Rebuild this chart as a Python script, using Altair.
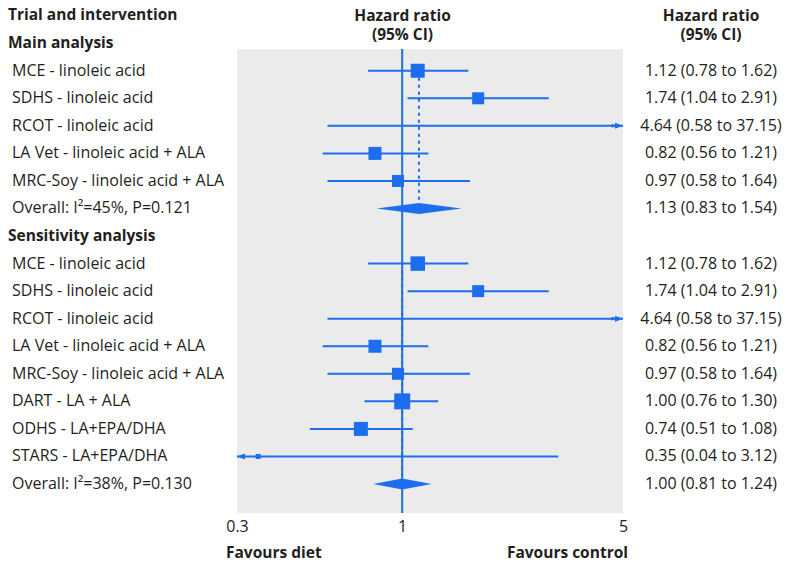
import altair as alt
import pandas as pd

FONT = "Open Sans"
BLUE = "#1c6eef"
TXT = "#231f20"
FS = 16
FSB = 15.5

# ---- data ----
main_trials = ["MCE - linoleic acid", "SDHS - linoleic acid", "RCOT - linoleic acid",
               "LA Vet - linoleic acid + ALA", "MRC-Soy - linoleic acid + ALA"]
main_hr = [1.12, 1.74, 4.64, 0.82, 0.97]
main_lo = [0.78, 1.04, 0.58, 0.56, 0.58]
main_hi = [1.62, 2.91, 37.15, 1.21, 1.64]
main_weight = [19.6, 14.4, 0.9, 16.9, 14.4]
main_overall_label = "Overall: I²=45%, P=0.121"
main_overall = [1.13, 0.83, 1.54]

sens_trials = ["MCE - linoleic acid", "SDHS - linoleic acid", "RCOT - linoleic acid",
               "LA Vet - linoleic acid + ALA", "MRC-Soy - linoleic acid + ALA",
               "DART - LA + ALA", "ODHS - LA+EPA/DHA", "STARS - LA+EPA/DHA"]
sens_hr = [1.12, 1.74, 4.64, 0.82, 0.97, 1.00, 0.74, 0.35]
sens_lo = [0.78, 1.04, 0.58, 0.56, 0.58, 0.76, 0.51, 0.04]
sens_hi = [1.62, 2.91, 37.15, 1.21, 1.64, 1.30, 1.08, 3.12]
sens_weight = [21.0, 14.4, 0.9, 16.9, 14.4, 25.6, 19.6, 2.5]
sens_overall_label = "Overall: I²=38%, P=0.130"
sens_overall = [1.00, 0.81, 1.24]

section_labels = ["Main analysis", "Sensitivity analysis"]
header_texts = ["Trial and intervention", "Hazard ratio", "(95% CI)", "Favours diet", "Favours control"]
x_ticks = [0.3, 1, 5]
XMIN, XMAX = 0.3, 5
NULL_HR = 1

# ---- build tables ----
rows = []
trials = []
diamonds = []
dashes = []
r = 0
for sec, names, hr, lo, hi, wt, olab, ov in [
    (section_labels[0], main_trials, main_hr, main_lo, main_hi, main_weight, main_overall_label, main_overall),
    (section_labels[1], sens_trials, sens_hr, sens_lo, sens_hi, sens_weight, sens_overall_label, sens_overall),
]:
    rows.append(dict(row=r, label=sec, kind="head", txt=""))
    r += 1
    first = r
    for n, e, l, h, w in zip(names, hr, lo, hi, wt):
        rows.append(dict(row=r, label=n, kind="item", txt=f"{e:.2f} ({l:.2f} to {h:.2f})"))
        trials.append(dict(row=r, hr=e, lo=max(l, XMIN), hi=min(h, XMAX), weight=w,
                           arr_r=XMAX if h > XMAX else None, arr_l=XMIN if l < XMIN else None))
        r += 1
    rows.append(dict(row=r, label=olab, kind="item", txt=f"{ov[0]:.2f} ({ov[1]:.2f} to {ov[2]:.2f})"))
    hh = 0.2
    diamonds += [dict(g=r, x=ov[1], y=r, y2=r), dict(g=r, x=ov[0], y=r - hh, y2=r + hh),
                 dict(g=r, x=ov[2], y=r, y2=r)]
    dashes.append(dict(x=ov[0], y=first + 0.25, y2=r - hh))
    r += 1

rows_df = pd.DataFrame(rows)
tr_df = pd.DataFrame(trials)
dia_df = pd.DataFrame(diamonds)
dash_df = pd.DataFrame(dashes)

# ---- scales ----
yscale = alt.Scale(domain=[0.2105, 17.053], reverse=True, nice=False, zero=False)
xscale = alt.Scale(type="log", domain=[XMIN, XMAX], nice=False)
xaxis = alt.Axis(values=x_ticks, format="~g", title=None, grid=False, domain=False, ticks=False,
                 labelFlush=False, labelPadding=5, labelFontSize=FS, labelFont=FONT,
                 labelColor=TXT, labelOverlap=False)


def X(f):
    return alt.X(f, scale=xscale, axis=xaxis)


def Y(f):
    return alt.Y(f, scale=yscale, axis=None)


ref_line = alt.Chart(pd.DataFrame({"x": [NULL_HR]})).mark_rule(color=BLUE, strokeWidth=2).encode(x=X("x:Q"))

dash_layer = alt.Chart(dash_df).mark_rule(color=BLUE, strokeWidth=2, strokeDash=[3, 4]).encode(
    x=X("x:Q"), y=Y("y:Q"), y2="y2:Q")

ci = alt.Chart(tr_df).mark_rule(color=BLUE, strokeWidth=2).encode(x=X("lo:Q"), x2="hi:Q", y=Y("row:Q"))

squares = alt.Chart(tr_df).mark_square(color=BLUE, opacity=1).encode(
    x=X("hr:Q"), y=Y("row:Q"),
    size=alt.Size("weight:Q", scale=alt.Scale(domain=[0, 25.6], range=[0, 256]), legend=None))

arr_r = alt.Chart(tr_df).transform_filter("datum.arr_r != null").mark_point(
    shape="M0,0 L-2,-0.75 L-2,0.75 Z", filled=True, size=64, color=BLUE, opacity=1).encode(
    x=X("arr_r:Q"), y=Y("row:Q"))
arr_l = alt.Chart(tr_df).transform_filter("datum.arr_l != null").mark_point(
    shape="M0,0 L2,-0.75 L2,0.75 Z", filled=True, size=64, color=BLUE, opacity=1).encode(
    x=X("arr_l:Q"), y=Y("row:Q"))

dia = alt.Chart(dia_df).mark_area(color=BLUE, opacity=1).encode(
    x=X("x:Q"), y=Y("y:Q"), y2="y2:Q", detail="g:N")

head_lbl = alt.Chart(rows_df).transform_filter("datum.kind == 'head'").mark_text(
    align="left", baseline="middle", font=FONT, fontSize=FSB, fontWeight="bold", color=TXT).encode(
    x=alt.value(-229), y=Y("row:Q"), text="label:N")
item_lbl = alt.Chart(rows_df).transform_filter("datum.kind == 'item'").mark_text(
    align="left", baseline="middle", font=FONT, fontSize=FS, color=TXT).encode(
    x=alt.value(-225), y=Y("row:Q"), text="label:N")
right_txt = alt.Chart(rows_df).transform_filter("datum.kind == 'item'").mark_text(
    align="center", baseline="middle", font=FONT, fontSize=FS, color=TXT).encode(
    x=alt.value(474), y=Y("row:Q"), text="txt:N")

# header / footer texts: (text, x px, y px, align)
hdr_specs = [
    (header_texts[0], -229, -34, "left"),
    (header_texts[1], 165.5, -33, "center"),
    (header_texts[2], 165.5, -14, "center"),
    (header_texts[1], 474, -33, "center"),
    (header_texts[2], 474, -14, "center"),
    (header_texts[3], -11, 504, "left"),
    (header_texts[4], 391, 504, "right"),
]
one = pd.DataFrame({"k": [0]})
hl = [alt.Chart(one).mark_text(text=t, align=a, baseline="middle", font=FONT, fontSize=FSB,
                               fontWeight="bold", color=TXT).encode(x=alt.value(px), y=alt.value(py))
      for t, px, py, a in hdr_specs]

chart = alt.layer(ref_line, dash_layer, ci, arr_r, arr_l, squares, dia,
                  head_lbl, item_lbl, right_txt, *hl).properties(
    width=386, height=464, padding=0
).configure_view(fill="#ebebeb", stroke=None)

chart.save("out.html", embed_options={"renderer": "svg", "actions": False})
